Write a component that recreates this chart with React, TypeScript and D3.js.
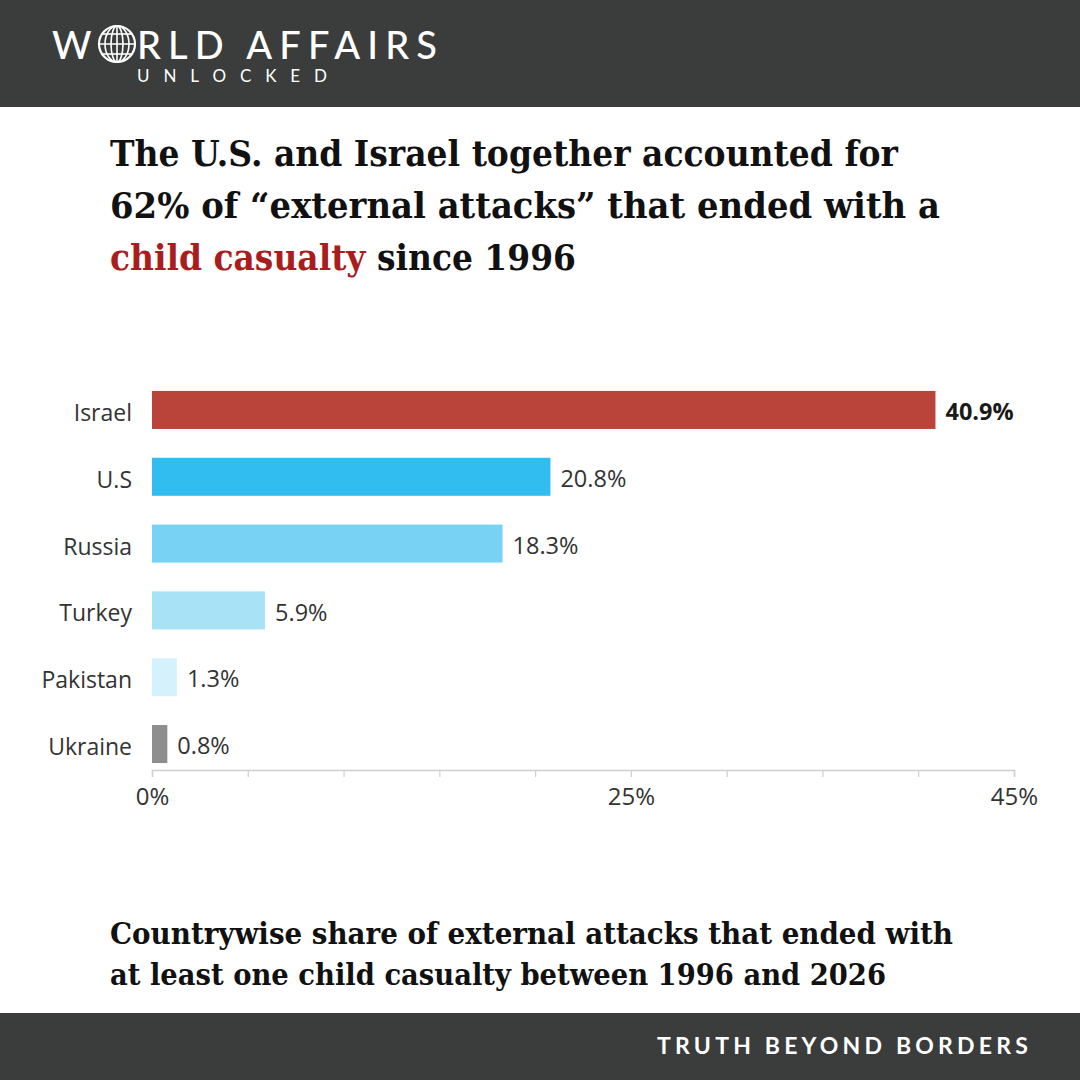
import React, { useEffect, useRef } from 'react';
import * as d3 from 'd3';

// Data
const countries = ['Israel', 'U.S', 'Russia', 'Turkey', 'Pakistan', 'Ukraine'];
const shares = [40.9, 20.8, 18.3, 5.9, 1.3, 0.8];
const barColors = ['#bb443a', '#31bdf0', '#77d2f3', '#a7e2f7', '#d5f1fb', '#8e8e8e'];
const tickValues = [0, 5, 10, 15, 20, 25, 30, 35, 40, 45];
const labelledTicks = [0, 25, 45];

const titleLines = [
  'The U.S. and Israel together accounted for',
  '62% of \u201cexternal attacks\u201d that ended with a',
];
const subtitleLines = [
  'Countrywise share of external attacks that ended with',
  'at least one child casualty between 1996 and 2026',
];

const App = () => {
  const svgRef = useRef<SVGSVGElement>(null);

  useEffect(() => {
    const W = 1080;
    const H = 1080;
    const svg = d3.select(svgRef.current);
    svg.selectAll('*').remove();
    svg.attr('width', W).attr('height', H);

    svg.append('rect').attr('width', W).attr('height', H).attr('fill', '#ffffff');

    // Header band
    svg.append('rect').attr('width', W).attr('height', 107).attr('fill', '#3b3c3c');
    const logoFont = 'Lato, "DejaVu Sans", sans-serif';
    svg.append('text')
      .attr('x', 52).attr('y', 59)
      .attr('font-family', logoFont).attr('font-size', 38).attr('font-weight', 500)
      .attr('fill', '#fff')
      .text('W');
    // globe in place of the O
    const globe = svg.append('g').attr('transform', 'translate(117,44)');
    globe.append('circle').attr('r', 18).attr('fill', 'none').attr('stroke', '#fff').attr('stroke-width', 2.2);
    [-10, 0, 10].forEach(dy => {
      const hw = Math.sqrt(18 * 18 - dy * dy);
      globe.append('line').attr('x1', -hw).attr('x2', hw).attr('y1', dy).attr('y2', dy)
        .attr('stroke', '#fff').attr('stroke-width', 1.6);
    });
    [6, 12].forEach(rx => {
      globe.append('ellipse').attr('rx', rx).attr('ry', 18).attr('fill', 'none')
        .attr('stroke', '#fff').attr('stroke-width', 1.6);
    });
    globe.append('line').attr('x1', 0).attr('x2', 0).attr('y1', -18).attr('y2', 18)
      .attr('stroke', '#fff').attr('stroke-width', 1.6);
    svg.append('text')
      .attr('x', 137).attr('y', 59)
      .attr('font-family', logoFont).attr('font-size', 38).attr('font-weight', 500)
      .attr('fill', '#fff')
      .attr('textLength', 300).attr('lengthAdjust', 'spacing')
      .text('RLD AFFAIRS');
    svg.append('text')
      .attr('x', 137).attr('y', 82)
      .attr('font-family', logoFont).attr('font-size', 17).attr('font-weight', 400)
      .attr('fill', '#fff')
      .attr('textLength', 190).attr('lengthAdjust', 'spacing')
      .text('UNLOCKED');

    // Title
    const serif = '"DejaVu Serif", serif';
    const title = svg.append('g')
      .attr('font-family', serif).attr('font-weight', 'bold').attr('fill', '#111');
    title.append('text').attr('x', 110).attr('y', 166).attr('font-size', 35)
      .attr('textLength', 788).attr('lengthAdjust', 'spacingAndGlyphs').text(titleLines[0]);
    title.append('text').attr('x', 110).attr('y', 218).attr('font-size', 35)
      .attr('textLength', 830).attr('lengthAdjust', 'spacingAndGlyphs').text(titleLines[1]);
    const t3 = title.append('text').attr('x', 110).attr('y', 270).attr('font-size', 35)
      .attr('textLength', 466).attr('lengthAdjust', 'spacingAndGlyphs');
    t3.append('tspan').attr('fill', '#a81e1e').text('child casualty');
    t3.append('tspan').text(' since 1996');

    // Chart
    const x = d3.scaleLinear().domain([0, 45]).range([152, 1014]);
    const y = d3.scaleBand().domain(countries).range([377.6, 776.4]).paddingInner(0.431).paddingOuter(0.2);
    const sans = '"Open Sans", "Noto Sans", sans-serif';

    const rows = countries.map((c, i) => ({ name: c, value: shares[i], color: barColors[i] }));

    svg.append('g').selectAll('rect').data(rows).enter().append('rect')
      .attr('x', x(0))
      .attr('y', d => y(d.name)!)
      .attr('width', d => x(d.value) - x(0))
      .attr('height', y.bandwidth())
      .attr('fill', d => d.color);

    svg.append('g').selectAll('text').data(rows).enter().append('text')
      .attr('x', x(0) - 20)
      .attr('y', d => y(d.name)! + y.bandwidth() / 2 + 3)
      .attr('dy', '0.35em')
      .attr('text-anchor', 'end')
      .attr('font-family', sans).attr('font-size', 23).attr('fill', '#333')
      .text(d => d.name);

    svg.append('g').selectAll('text').data(rows).enter().append('text')
      .attr('x', d => x(d.value) + 10)
      .attr('y', d => y(d.name)! + y.bandwidth() / 2 + 2)
      .attr('dy', '0.35em')
      .attr('font-family', sans).attr('font-size', 23.5)
      .attr('font-weight', (d, i) => (i === 0 ? 'bold' : 'normal'))
      .attr('fill', (d, i) => (i === 0 ? '#1a1a1a' : '#333'))
      .text(d => d.value.toFixed(1) + '%');

    const axis = svg.append('g')
      .attr('transform', 'translate(0,770)')
      .call(d3.axisBottom(x).tickValues(tickValues).tickSize(7).tickPadding(11)
        .tickFormat(d => (labelledTicks.includes(+d) ? `${d}%` : '')));
    axis.select('.domain').attr('stroke', '#cfcfcf').attr('stroke-width', 1.5);
    axis.selectAll('.tick line').attr('stroke', '#cfcfcf').attr('stroke-width', 1.2);
    axis.selectAll('.tick text').attr('font-family', sans).attr('font-size', 24).attr('fill', '#333');

    // Subtitle
    const sub = svg.append('g')
      .attr('font-family', serif).attr('font-weight', 'bold').attr('fill', '#111');
    sub.append('text').attr('x', 110).attr('y', 944).attr('font-size', 29)
      .attr('textLength', 843).attr('lengthAdjust', 'spacingAndGlyphs').text(subtitleLines[0]);
    sub.append('text').attr('x', 110).attr('y', 985).attr('font-size', 29)
      .attr('textLength', 776).attr('lengthAdjust', 'spacingAndGlyphs').text(subtitleLines[1]);

    // Footer band
    svg.append('rect').attr('y', 1013).attr('width', W).attr('height', 67).attr('fill', '#3b3c3c');
    svg.append('text')
      .attr('x', 1032).attr('y', 1054)
      .attr('text-anchor', 'end')
      .attr('font-family', logoFont).attr('font-size', 23).attr('font-weight', 'bold')
      .attr('letter-spacing', 4.2)
      .attr('fill', '#fff')
      .text('TRUTH BEYOND BORDERS');
  }, []);

  return (
    <div style={{ position: 'absolute', left: 0, top: 0 }}>
      <svg ref={svgRef} style={{ display: 'block' }}></svg>
    </div>
  );
};

export default App;
